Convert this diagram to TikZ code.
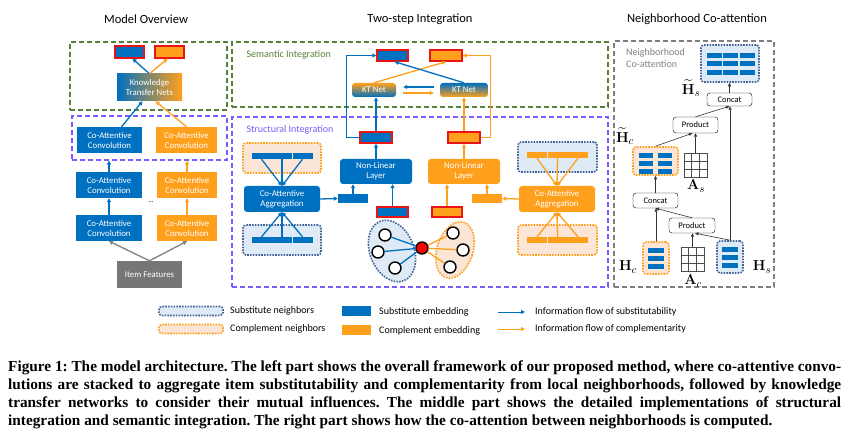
\documentclass[tikz,border=0pt]{standalone}
\usepackage[no-math]{fontspec}
\usepackage{amssymb, amsmath}
\setmainfont{Carlito}
\newfontfamily\capfont{Liberation Serif}
\usetikzlibrary{arrows.meta, shapes.geometric}

\definecolor{sblue}{RGB}{0,112,192}
\definecolor{corange}{RGB}{255,160,28}
\definecolor{sfill}{RGB}{222,234,246}
\definecolor{cfill}{RGB}{251,229,214}
\definecolor{sdots}{RGB}{68,100,150}
\definecolor{kred}{RGB}{235,20,20}
\definecolor{igreen}{RGB}{84,130,53}
\definecolor{ipurple}{RGB}{125,90,255}
\definecolor{featgray}{RGB}{118,118,118}

\tikzset{
  sz/.style 2 args={minimum width=#1pt, minimum height=#2pt},
  blk/.style={inner sep=0pt, text=white, align=center, font=\fontsize{8.8}{10}\selectfont},
  rblk/.style={blk, rounded corners=3pt},
  emb/.style={inner sep=0pt, draw=kred, line width=1.4pt},
  semb/.style={emb, fill=sblue},
  cemb/.style={emb, fill=corange},
  bar/.style={inner sep=0pt, fill=sblue},
  cbar/.style={inner sep=0pt, fill=corange},
  sgrp/.style={inner sep=0pt, rounded corners=3pt, fill=sfill, draw=sdots, line width=1.6pt, dash pattern=on 1.6pt off 1.2pt},
  cgrp/.style={sgrp, fill=cfill, draw=corange},
  panel/.style={inner sep=0pt, line width=1.2pt, dash pattern=on 5pt off 3pt},
  sarr/.style={draw=sblue, line width=1.3pt, -{Triangle[length=4pt,width=4pt]}},
  carr/.style={sarr, draw=corange},
  garr/.style={sarr, draw=gray},
  slin/.style={draw=sblue, line width=1.3pt},
  clin/.style={draw=corange, line width=1.3pt},
  karr/.style={draw=black!80, line width=0.6pt, -{Triangle[length=3.5pt,width=3pt]}},
  wbox/.style={draw=black, rounded corners=3pt, fill=white, inner sep=0pt, font=\fontsize{8.5}{10}\selectfont},
  itm/.style={circle, draw=black, line width=1.4pt, fill=white, minimum size=12pt, inner sep=0pt},
  mlbl/.style={inner sep=0pt, font=\fontsize{15}{15}\selectfont},
  ttl/.style={font=\fontsize{12.5}{14}\selectfont},
  lgd/.style={anchor=west, inner sep=0pt, font=\fontsize{10}{12}\selectfont},
}

\begin{document}
\begin{tikzpicture}[x=1pt, y=-1pt]
\useasboundingbox (0,0) rectangle (851,438);

\node[ttl] (t1) at (146,19) {Model Overview};
\node[ttl] (t2) at (420,19) {Two-step Integration};
\node[ttl] (t3) at (697,19) {Neighborhood Co-attention};

% model overview
\node[panel, draw=igreen, sz={157}{68}] (sem1) at (148.5,76) {};
\node[panel, draw=ipurple, sz={155}{44}] (str1) at (149.5,138) {};
\node[semb, sz={29}{12}] (o1s) at (129.5,52) {};
\node[cemb, sz={29}{12}] (o1c) at (169.5,52) {};
\node[blk, left color=sblue, right color=corange, sz={65}{27}] (ktn) at (149.5,87.5) {Knowledge\\Transfer Nets};
\node[blk, fill=sblue, sz={65}{26}] (c1s) at (109.5,140) {Co-Attentive\\Convolution};
\node[blk, fill=corange, sz={61}{26}] (c1c) at (186.5,140) {Co-Attentive\\Convolution};
\node[blk, fill=sblue, sz={66}{26}] (c2s) at (109,185) {Co-Attentive\\Convolution};
\node[blk, fill=corange, sz={60}{26}] (c2c) at (187,185) {Co-Attentive\\Convolution};
\node[blk, fill=sblue, sz={66}{26}] (c3s) at (109,228) {Co-Attentive\\Convolution};
\node[blk, fill=corange, sz={60}{26}] (c3c) at (187,228) {Co-Attentive\\Convolution};
\node[font=\fontsize{7}{8}\selectfont] (dots) at (151,202) {...};
\node[blk, fill=featgray, sz={65}{27}] (feat) at (149.5,274.5) {Item Features};

\draw[sarr] (ktn.north) -- ([xshift=3pt]o1s.south);
\draw[carr] (ktn.north) -- ([xshift=-2pt]o1c.south);
\draw[sarr] ([xshift=12pt]c1s.north) -- ([xshift=-7pt]ktn.south);
\draw[carr] (c1c.north) -- ([xshift=6pt]ktn.south);
\draw[sarr] (c2s.north) -- (c2s.north |- str1.south);
\draw[carr] (c2c.north) -- (c2c.north |- str1.south);
\draw[sarr] (c3s.north) -- (c2s.south);
\draw[carr] (c3c.north) -- (c2c.south);
\draw[garr] (feat.north) -- (c3s.south);
\draw[garr] (feat.north) -- (c3c.south);

% two-step integration
\node[panel, draw=igreen, sz={376}{65}] (sem2) at (420,74.5) {};
\node[panel, draw=ipurple, sz={376}{170}] (str2) at (420,202) {};
\node[anchor=west, text=igreen, font=\fontsize{10}{12}\selectfont] (lsem) at (243,55) {Semantic Integration};
\node[anchor=west, text=ipurple, font=\fontsize{10}{12}\selectfont] (lstr) at (243,130) {Structural Integration};

\node[semb, sz={31}{11}] (m1s) at (392.5,55.5) {};
\node[cemb, sz={32}{11}] (m1c) at (446,55.5) {};
\node[rblk, top color=corange, bottom color=sblue, sz={44}{14}] (ktl) at (374,90) {KT Net};
\node[rblk, top color=sblue, bottom color=corange, sz={48}{14}] (ktr) at (464,90) {KT Net};
\node[semb, sz={32}{11}] (m2s) at (376,137.5) {};
\node[cemb, sz={32}{11}] (m2c) at (464,137.5) {};
\node[rblk, fill=sblue, sz={72}{25}] (nls) at (376,171.5) {Non-Linear\\Layer};
\node[rblk, fill=corange, sz={72}{25}] (nlc) at (464,171.5) {Non-Linear\\Layer};

\node[cgrp, sz={78}{30}] (gtl) at (282,158) {};
\node[sgrp, sz={78}{30}] (gbl) at (282,240) {};
\node[rblk, fill=sblue, sz={76}{26}] (agl) at (282,199) {Co-Attentive\\Aggregation};
\node[sgrp, sz={79}{30}] (gtr) at (557.5,157) {};
\node[cgrp, sz={79}{30}] (gbr) at (557.5,240) {};
\node[rblk, fill=corange, sz={76}{26}] (agr) at (557,199) {Co-Attentive\\Aggregation};

\foreach \i/\x in {1/261.5, 2/282, 3/302.5} {
  \node[bar, sz={20}{6}] (tl\i) at (\x,156) {};
  \node[bar, sz={20}{6}] (bl\i) at (\x,240) {};
  \draw[sarr] (tl\i.south) -- (agl.north);
  \draw[sarr] (bl\i.north) -- (agl.south);
}
\foreach \i/\x in {1/537, 2/557.5, 3/578} {
  \node[cbar, sz={20}{6}] (tr\i) at (\x,155) {};
  \node[cbar, sz={20}{6}] (br\i) at (\x,240) {};
  \draw[carr] (tr\i.south) -- (agr.north);
  \draw[carr] (br\i.north) -- (agr.south);
}

\node[bar, sz={30}{9}] (ves) at (353,198.5) {};
\node[cbar, sz={30}{9}] (vec) at (487,198.5) {};
\node[semb, sz={31}{10}] (m3s) at (392.5,212) {};
\node[cemb, sz={30}{10}] (m3c) at (447,212) {};

\draw[sarr] ([xshift=-6pt,yshift=3pt]ktr.west) -- ([xshift=7pt,yshift=3pt]ktl.east);
\draw[carr] ([xshift=7pt,yshift=-3pt]ktl.east) -- ([xshift=-6pt,yshift=-3pt]ktr.west);
\draw[carr] (ktl.north) -- (m1c.south);
\draw[sarr] (ktr.north) -- ([xshift=2pt]m1s.south);
\draw[sarr] (m2s.north) -- (m2s.north |- ktl.south);
\draw[carr] (m2c.north) -- (m2c.north |- ktr.south);
\draw[sarr] (m2s.west) -- ++(-13,0) |- (m1s.west);
\draw[carr] (m2c.east) -- ++(10,0) |- (m1c.east);
\draw[sarr] (nls.north) -- (m2s.south);
\draw[carr] (nlc.north) -- (m2c.south);
\draw[sarr] (ves.north) -- (ves.north |- nls.south);
\draw[sarr] (m3s.north) -- (m3s.north |- nls.south);
\draw[carr] (m3c.north) -- (m3c.north |- nlc.south);
\draw[carr] (vec.north) -- (vec.north |- nlc.south);
\draw[sarr] (agl.east) -- (ves.west);
\draw[carr] (agr.west) -- (vec.east);

\node[ellipse, sgrp, sz={44}{64}, rotate=22] (egs) at (392,251) {};
\node[ellipse, cgrp, sz={36}{58}, rotate=-18] (egc) at (455,250) {};
\node[itm, fill=red] (ctr) at (422,248) {};
\foreach \n/\x/\y in {ns1/385/235, ns2/378/252, ns3/395/268} {
  \node[itm] (\n) at (\x,\y) {};
  \draw[slin] (\n) -- (ctr);
}
\foreach \n/\x/\y in {nc1/453/233, nc2/463/250, nc3/450/267} {
  \node[itm] (\n) at (\x,\y) {};
  \draw[clin] (\n) -- (ctr);
}

% neighborhood co-attention
\node[panel, draw=gray, sz={160}{246}] (nca) at (694,164) {};
\node[anchor=north west, align=left, text=gray, inner sep=0pt, font=\fontsize{10}{12.5}\selectfont] (lnca) at (626,48) {Neighborhood\\Co-attention};

\node[sgrp, sz={58}{37}] (hst) at (730,63.5) {};
\foreach \i in {0,1,2} \foreach \j in {0,1,2} \node[bar, sz={15}{5}] (hb\i\j) at (714+16.5*\i,55.5+8.5*\j) {};
\node[wbox, sz={45}{13}] (ctop) at (729.5,99.5) {Concat};
\node[wbox, sz={45}{16}] (ptop) at (695.5,125) {Product};
\node[cgrp, sz={45}{28}] (hct) at (655.5,161) {};
\foreach \i in {0,1} \foreach \j in {0,1,2} \node[bar, sz={14}{5}] (hcb\i\j) at (646+18.5*\i,155.5+8*\j) {};
\node[draw=black!70, line width=0.5pt, inner sep=0pt, sz={23}{24}] (as) at (695.5,165) {};
\foreach \k in {1,2} {
  \draw[black!70, line width=0.5pt] (684+\k*23/3,153) -- (684+\k*23/3,177);
  \draw[black!70, line width=0.5pt] (684,153+\k*8) -- (707,153+\k*8);
}
\node[wbox, sz={45}{15}] (cbot) at (655.5,200.5) {Concat};
\node[wbox, sz={46}{15}] (pbot) at (692,225.5) {Product};
\node[cgrp, sz={26}{32}] (hc) at (656,258) {};
\node[sgrp, sz={26}{32}] (hs) at (730,257) {};
\foreach \j in {0,1,2} {
  \node[bar, sz={16}{5}] (hcv\j) at (656,250.5+8*\j) {};
  \node[bar, sz={16}{5}] (hsv\j) at (730,249.5+8*\j) {};
}
\node[draw=black!70, line width=0.5pt, inner sep=0pt, sz={23}{24}] (ac) at (692.5,259) {};
\foreach \k in {1,2} {
  \draw[black!70, line width=0.5pt] (681+\k*23/3,247) -- (681+\k*23/3,271);
  \draw[black!70, line width=0.5pt] (681,247+\k*8) -- (704,247+\k*8);
}

\node[mlbl] (lhst) at (691,88) {$\widetilde{\mathbf{H}}_s$};
\node[mlbl] (lhct) at (625,136) {$\widetilde{\mathbf{H}}_c$};
\node[mlbl] (las) at (696,186) {$\mathbf{A}_s$};
\node[mlbl] (lhc) at (628,267) {$\mathbf{H}_c$};
\node[mlbl] (lac) at (693,281) {$\mathbf{A}_c$};
\node[mlbl] (lhs) at (762,267) {$\mathbf{H}_s$};

\draw[karr] (ctop.north) -- (ctop.north |- hst.south);
\draw[karr] (ptop.north) -- (ctop.south);
\draw[karr] (hs.north) -- (hs.north |- ctop.south);
\draw[karr] (hct.north) -- ([xshift=-3pt]ptop.south);
\draw[karr] (as.north) -- (as.north |- ptop.south);
\draw[karr] (cbot.north) -- (cbot.north |- hct.south);
\draw[karr] (pbot.north) -- (cbot.south);
\draw[karr] (hc.north) -- (hc.north |- cbot.south);
\draw[karr] (ac.north) -- (ac.north |- pbot.south);
\draw[karr] (hs.north) -- ([xshift=3pt]pbot.south);

% legend
\node[sgrp, sz={64}{9}] (lgs) at (191,311) {};
\node[cgrp, sz={64}{9}] (lgc) at (191,329) {};
\node[lgd] (tgs) at (230,311) {Substitute neighbors};
\node[lgd] (tgc) at (230,329) {Complement neighbors};
\node[bar, sz={29}{10}] (les) at (356.5,311) {};
\node[cbar, sz={29}{10}] (lec) at (356.5,330) {};
\node[lgd] (tes) at (379,312) {Substitute embedding};
\node[lgd] (tec) at (379,331) {Complement embedding};
\coordinate (fs1) at (498,312);
\coordinate (fs2) at (525,312);
\coordinate (fc1) at (498,329);
\coordinate (fc2) at (525,329);
\draw[sarr, line width=1pt] (fs1) -- (fs2);
\draw[carr, line width=1pt] (fc1) -- (fc2);
\node[lgd] (tfs) at (535,312) {Information flow of substitutability};
\node[lgd] (tfc) at (535,329) {Information flow of complementarity};

% caption
\node[anchor=north west, inner sep=0pt, text width=833pt, align=justify, font=\capfont\bfseries\fontsize{15.3}{18}\selectfont\frenchspacing] (cap) at (8,361) {Figure 1: The model architecture. The left part shows the overall framework of our proposed method, where co-attentive convo-\linebreak lutions are stacked to aggregate item substitutability and complementarity from local neighborhoods, followed by knowledge\linebreak transfer networks to consider their mutual influences. The middle part shows the detailed implementations of structural\linebreak integration and semantic integration. The right part shows how the co-attention between neighborhoods is computed.};
\end{tikzpicture}
\end{document}
